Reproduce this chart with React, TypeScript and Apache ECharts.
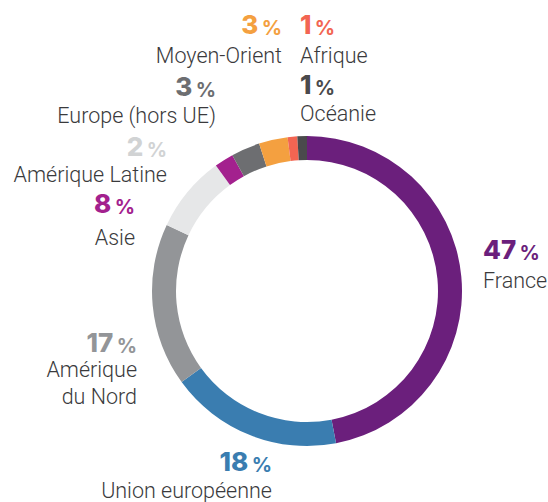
import React, { useEffect, useRef } from "react";
import * as echarts from "echarts";

const regions = ["France", "Union européenne", "Amérique du Nord", "Asie", "Amérique Latine", "Europe (hors UE)", "Moyen-Orient", "Afrique", "Océanie"];
const shares = [47, 18, 17, 8, 2, 3, 3, 1, 1];
const sliceColors = ["#6B1F7C", "#3A7DB0", "#939598", "#E6E7E8", "#A3218E", "#6D6E71", "#F4A040", "#F26552", "#4A4A4C"];
const numberColors = ["#6B1F7C", "#3A7DB0", "#939598", "#A3218E", "#D1D3D4", "#6D6E71", "#F4A040", "#F26552", "#4A4A4C"];
const labelLines = [["France"], ["Union européenne"], ["Amérique", "du Nord"], ["Asie"], ["Amérique Latine"], ["Europe (hors UE)"], ["Moyen-Orient"], ["Afrique"], ["Océanie"]];

// label anchor layout: [x, numberY, firstLineY, align]
const labelLayout: [number, number, number, "left" | "right"][] = [
  [483, 254, 280, "left"],
  [272, 466, 490, "right"],
  [137, 347, 369, "right"],
  [135, 208, 237, "right"],
  [167, 151, 174, "right"],
  [216, 91, 115, "right"],
  [282, 29, 55, "right"],
  [300, 29, 55, "left"],
  [300, 89, 113, "left"],
];

export default function App() {
  const ref = useRef<HTMLDivElement>(null);
  useEffect(() => {
    if (!ref.current) return;
    const chart = echarts.init(ref.current, null, { renderer: "svg" });
    const graphics: any[] = [];
    regions.forEach((r, i) => {
      const [x, ny, ly, align] = labelLayout[i];
      graphics.push({
        type: "text",
        x,
        y: ny,
        style: {
          text: `{n|${shares[i]}} {p|%}`,
          textAlign: align,
          textVerticalAlign: "middle",
          rich: {
            n: { fontFamily: "Inter", fontWeight: 800, fontSize: 26, fill: numberColors[i], color: numberColors[i], verticalAlign: "bottom", lineHeight: 17 },
            p: { fontFamily: "Inter", fontWeight: 700, fontSize: 20, fill: numberColors[i], color: numberColors[i], verticalAlign: "bottom", lineHeight: 16 },
          },
        },
      });
      labelLines[i].forEach((line, j) => {
        graphics.push({
          type: "text",
          x,
          y: ly + j * 27,
          style: {
            text: line,
            textAlign: align,
            textVerticalAlign: "middle",
            fontFamily: "Roboto",
            fontWeight: 300,
            fontSize: 21.5,
            fill: "#3A3A3C",
          },
        });
      });
    });
    chart.setOption({
      animation: false,
      backgroundColor: "#ffffff",
      series: [
        {
          type: "pie",
          center: [307, 291],
          radius: [131, 155],
          startAngle: 90,
          clockwise: true,
          label: { show: false },
          labelLine: { show: false },
          silent: true,
          data: regions.map((r, i) => ({ name: r, value: shares[i], itemStyle: { color: sliceColors[i] } })),
        },
      ],
      graphic: graphics,
    });
    return () => chart.dispose();
  }, []);
  return <div ref={ref} style={{ position: "fixed", left: 0, top: 0, width: 548, height: 502 }} />;
}
